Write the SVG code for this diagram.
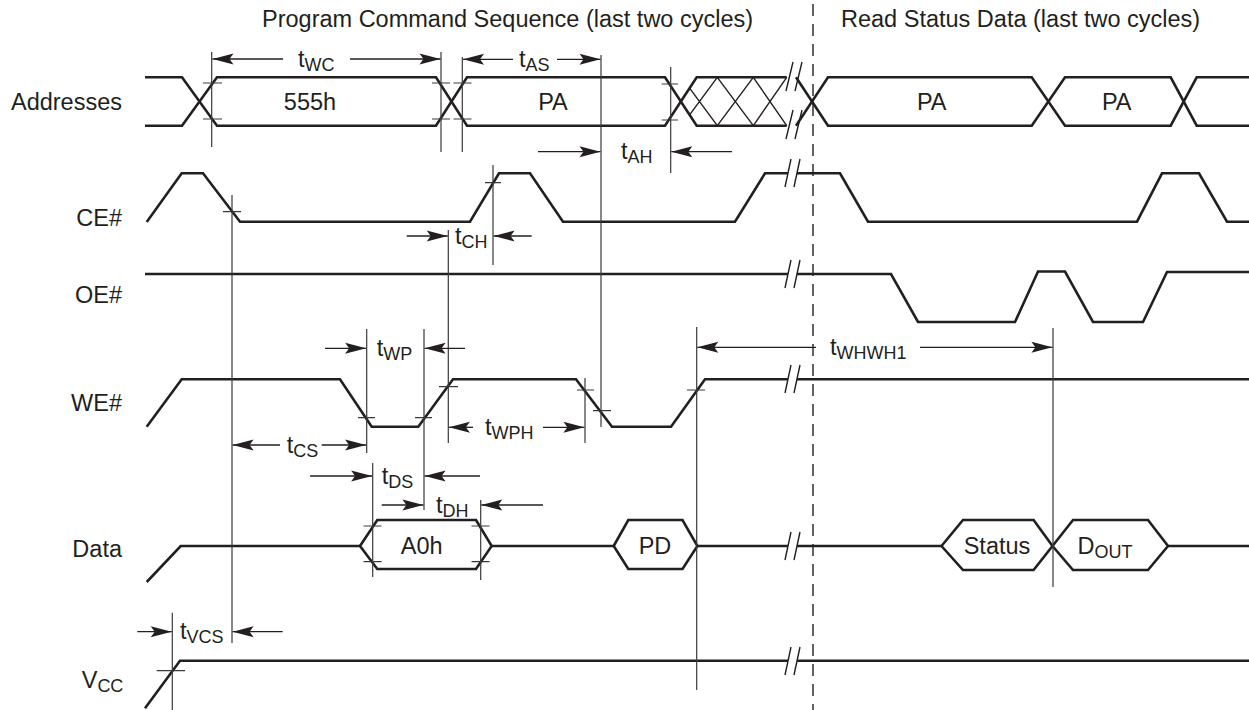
<svg xmlns="http://www.w3.org/2000/svg" width="1249" height="710" viewBox="0 0 1249 710">
<style>
.sig{fill:none;stroke:#231f20;stroke-width:2.6;stroke-linejoin:miter}
.hat{fill:none;stroke:#231f20;stroke-width:1.4}
.thin{fill:none;stroke:#3a3a3a;stroke-width:1.2}
.brk{fill:none;stroke:#231f20;stroke-width:1.4}
.arr{fill:none;stroke:#231f20;stroke-width:1.3;marker-end:url(#ah)}
.dash{fill:none;stroke:#231f20;stroke-width:1.4;stroke-dasharray:12 8}
text{font-family:"Liberation Sans",Arial,Helvetica,sans-serif;font-size:23.5px;fill:#231f20}
.lbl{text-anchor:end}
.ctr{text-anchor:middle}
.sub{font-size:18px}
</style>
<defs>
<marker id="ah" viewBox="-22 -6 23 12" refX="0" refY="0" markerWidth="23" markerHeight="12" markerUnits="userSpaceOnUse" orient="auto">
<path d="M0,0 L-21,-5.5 L-17,0 L-21,5.5 Z" fill="#231f20"/>
</marker>
</defs>
<rect width="1249" height="710" fill="#fff"/>

<g id="titles">
<text x="262" y="27">Program Command Sequence (last two cycles)</text>
<text x="841" y="27">Read Status Data (last two cycles)</text>
</g>

<line id="divider" class="dash" x1="813" y1="4" x2="813" y2="710"/>

<g id="addresses">
<text class="lbl" x="122" y="110">Addresses</text>
<polyline class="sig" points="145,77.3 182,77.3 217,125.7 436,125.7 467,77.3 665,77.3 696.7,125.7 786.7,125.7"/>
<polyline class="sig" points="145,125.7 182,125.7 217,77.3 436,77.3 467,125.7 665,125.7 696.7,77.3 786.7,77.3"/>
<path class="hat" d="M689.6,88.1 L717.3,125.7 M689.6,114.9 L717.3,77.3 M717.3,77.3 L753.3,125.7 M717.3,125.7 L753.3,77.3 M753.3,77.3 L786.7,125.7 M753.3,125.7 L786.7,77.3"/>
<path class="brk" d="M786,91 L793,62 M795,91 L802,62 M786,139 L793,110 M795,139 L802,110"/>
<polyline class="sig" points="796,77.3 828,125.7 1031.7,125.7 1065,77.3 1170.7,77.3 1196.7,125.7 1249,125.7"/>
<polyline class="sig" points="796,125.7 828,77.3 1031.7,77.3 1065,125.7 1170.7,125.7 1196.7,77.3 1249,77.3"/>
<text class="ctr" x="310" y="110">555h</text>
<text class="ctr" x="553" y="110">PA</text>
<text class="ctr" x="931.7" y="110">PA</text>
<text class="ctr" x="1116.7" y="110">PA</text>
</g>

<g id="ce">
<text class="lbl" x="122" y="225.7">CE#</text>
<polyline class="sig" points="146.7,222 181.7,173.3 203,173.3 240,221.7 470,221.7 499,173.3 530,173.3 563,221.7 735,221.7 765,173.3 788,173.3"/>
<path class="brk" d="M785,187 L791,159 M794,187 L800,159"/>
<polyline class="sig" points="797,173.3 840,173.3 868,221.7 1137,221.7 1162,173.3 1199,173.3 1227,221.7 1249,221.7"/>
</g>

<g id="oe">
<text class="lbl" x="122" y="303.3">OE#</text>
<polyline class="sig" points="145,274 788,274"/>
<path class="brk" d="M785,288 L791,260 M794,288 L800,260"/>
<polyline class="sig" points="797,274 891,274 918,322 1015,322 1038,271.5 1065,271.5 1093,322 1143,322 1167,272 1249,272"/>
</g>

<g id="we">
<text class="lbl" x="122" y="410.7">WE#</text>
<polyline class="sig" points="146.7,426.7 181.7,379.3 340,379.3 371.7,426.7 418.3,426.7 453,379.3 576,379.3 612,426.7 671,426.7 705,379.3 788,379.3"/>
<path class="brk" d="M785,393 L791,365 M794,393 L800,365"/>
<polyline class="sig" points="797,379.3 1249,379.3"/>
</g>

<g id="data">
<text class="lbl" x="122" y="557.3">Data</text>
<polyline class="sig" points="146.7,582 180.7,546 360,546"/>
<polygon class="sig" points="360,546 377.3,520 476,520 491.7,546 476,569 377.3,569"/>
<polyline class="sig" points="491.7,546 613.7,546"/>
<polygon class="sig" points="613.7,546 628.3,520 682.5,520 697.4,546 682.5,569 628.3,569"/>
<polyline class="sig" points="697.4,546 788,546"/>
<path class="brk" d="M785,560 L791,532 M794,560 L800,532"/>
<polyline class="sig" points="797,546 941.5,546"/>
<polygon class="sig" points="941.5,546 963,520 1033.6,520 1052.5,546 1033.6,570 963,570"/>
<polygon class="sig" points="1052.5,546 1073,520 1148,520 1168,546 1148,570 1073,570"/>
<polyline class="sig" points="1168,546 1249,546"/>
<text class="ctr" x="421.7" y="553.5">A0h</text>
<text class="ctr" x="655" y="553.5">PD</text>
<text class="ctr" x="997" y="553.5">Status</text>
<text x="1077.6" y="553.5">D<tspan class="sub" dy="4">OUT</tspan></text>
</g>

<g id="vcc">
<text x="81.7" y="688">V<tspan class="sub" dy="4">CC</tspan></text>
<polyline class="sig" points="145,708.3 180,660.7 788,660.7"/>
<path class="brk" d="M785,675 L791,647 M794,675 L800,647"/>
<polyline class="sig" points="797,660.7 1249,660.7"/>
</g>

<g id="connectors">
<!-- reference verticals -->
<path class="thin" d="M211.7,52 V147 M441,52 V152 M462.3,57 V152 M601,55 V427 M670.7,67 V173 M232,195 V643 M493,165 V265 M448.3,230 V443 M366.7,329 V453 M424,329 V510 M372.7,463 V577 M480.7,500 V580 M585,378 V443 M696.7,327 V690 M1053,328 V587 M172.3,612.7 V710"/>
<!-- ticks -->
<path class="thin" d="M203,83 H222 M203,119 H222 M432,83 H450 M432,119 H450 M453.5,83 H471.5 M453.5,119 H471.5 M661.7,84 H678 M661.7,120 H678 M223,211.7 H241 M485,182.7 H501 M358,417.7 H375 M415,417.7 H432 M439,386.7 H458 M577,390 H594 M593,410.7 H611 M687,390 H705 M363.5,526 H381.5 M363.5,561.7 H381.5 M471.5,526 H489.5 M471.5,561.7 H489.5 M156.7,670.7 H185"/>
<!-- arrows -->
<line class="arr" x1="283" y1="59" x2="212.5" y2="59"/>
<line class="arr" x1="350" y1="59" x2="440.5" y2="59"/>
<line class="arr" x1="513" y1="59.3" x2="463" y2="59.3"/>
<line class="arr" x1="557" y1="59.3" x2="600.5" y2="59.3"/>
<line class="arr" x1="538" y1="151.7" x2="600.5" y2="151.7"/>
<line class="arr" x1="732" y1="151.7" x2="671.3" y2="151.7"/>
<line class="arr" x1="406.7" y1="236" x2="447.7" y2="236"/>
<line class="arr" x1="531.7" y1="236" x2="493.6" y2="236"/>
<line class="arr" x1="325" y1="348.3" x2="366.1" y2="348.3"/>
<line class="arr" x1="465" y1="348.3" x2="424.6" y2="348.3"/>
<line class="arr" x1="816" y1="347.3" x2="697.3" y2="347.3"/>
<line class="arr" x1="920" y1="347.3" x2="1052.4" y2="347.3"/>
<line class="arr" x1="473" y1="427.3" x2="448.9" y2="427.3"/>
<line class="arr" x1="543" y1="427.3" x2="584.4" y2="427.3"/>
<line class="arr" x1="280" y1="445" x2="232.6" y2="445"/>
<line class="arr" x1="321.7" y1="445" x2="366.1" y2="445"/>
<line class="arr" x1="310" y1="476" x2="372.1" y2="476"/>
<line class="arr" x1="480" y1="476" x2="424.6" y2="476"/>
<line class="arr" x1="381.7" y1="505" x2="423.4" y2="505"/>
<line class="arr" x1="543" y1="505" x2="481.3" y2="505"/>
<line class="arr" x1="137.3" y1="631.7" x2="171.7" y2="631.7"/>
<line class="arr" x1="282.7" y1="631.7" x2="232.6" y2="631.7"/>
<!-- labels -->
<text x="298" y="66.5">t<tspan class="sub" dy="4">WC</tspan></text>
<text x="519" y="66.8">t<tspan class="sub" dy="4">AS</tspan></text>
<text x="621" y="159">t<tspan class="sub" dy="4">AH</tspan></text>
<text x="455" y="243.5">t<tspan class="sub" dy="4">CH</tspan></text>
<text x="376.7" y="355.8">t<tspan class="sub" dy="4">WP</tspan></text>
<text x="830" y="354.8">t<tspan class="sub" dy="4">WHWH1</tspan></text>
<text x="485" y="434.8">t<tspan class="sub" dy="4">WPH</tspan></text>
<text x="286.7" y="452.5">t<tspan class="sub" dy="4">CS</tspan></text>
<text x="381.7" y="483.5">t<tspan class="sub" dy="4">DS</tspan></text>
<text x="436" y="512.5">t<tspan class="sub" dy="4">DH</tspan></text>
<text x="180" y="639.2">t<tspan class="sub" dy="4">VCS</tspan></text>
</g>
</svg>
